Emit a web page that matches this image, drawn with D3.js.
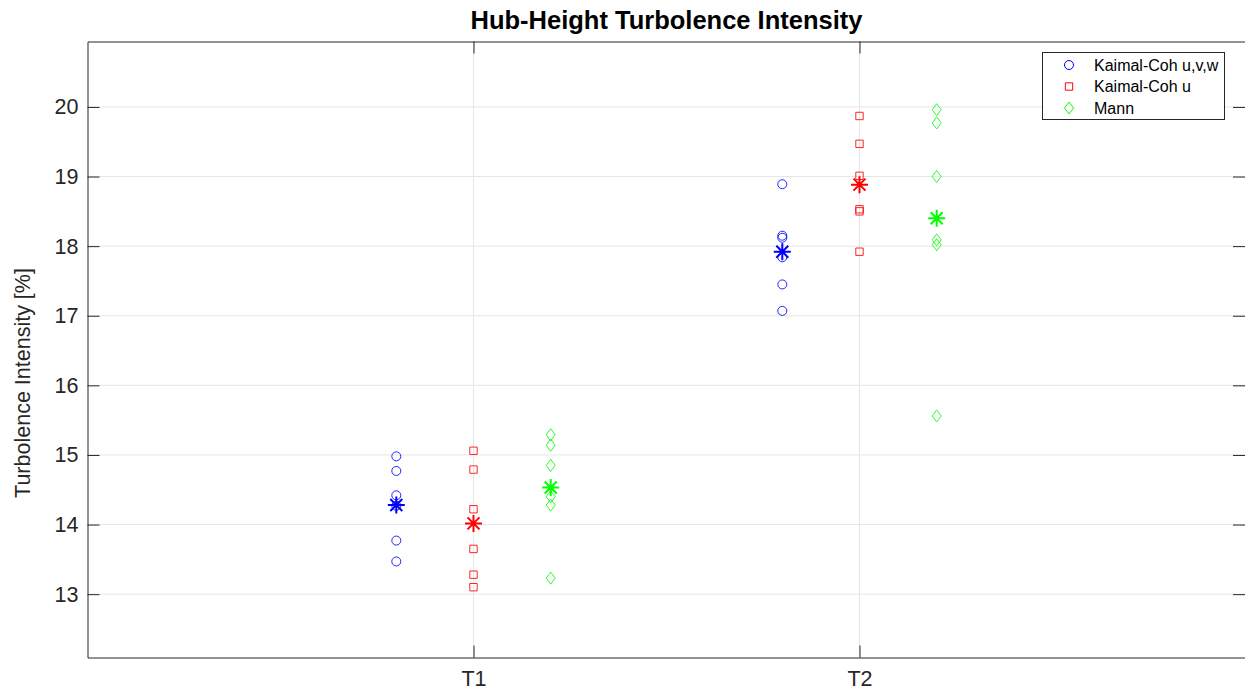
<!DOCTYPE html>
<html>
<meta charset="utf-8" />
<head>
    <script src="https://d3js.org/d3.v7.min.js"></script>
    <style>
        body { margin: 0; background: #fff; }
        text { font-family: "Liberation Sans", Arial, sans-serif; }
    </style>
</head>
<body>
<div id="chart"></div>
<script type="text/javascript">
    // turbine positions and the three turbulence models
    var turbines = ["T1", "T2"];
    var models = ["Kaimal-Coh u,v,w", "Kaimal-Coh u", "Mann"];
    var yTicks = [13, 14, 15, 16, 17, 18, 19, 20];

    // one value per seed
    var kaimalUVW_T1 = [14.98, 14.77, 14.42, 14.27, 13.77, 13.47];
    var kaimalUVW_T2 = [18.89, 18.15, 18.12, 17.84, 17.45, 17.07];
    var kaimalU_T1 = [15.06, 14.79, 14.22, 13.65, 13.28, 13.10];
    var kaimalU_T2 = [19.87, 19.47, 19.01, 18.53, 18.50, 17.92];
    var mann_T1 = [15.29, 15.14, 14.85, 14.40, 14.28, 13.23];
    var mann_T2 = [19.96, 19.77, 19.00, 18.09, 18.02, 15.56];

    var seriesData = [
        [kaimalUVW_T1, kaimalUVW_T2],
        [kaimalU_T1, kaimalU_T2],
        [mann_T1, mann_T2]
    ];
    var colors = ["#0000ff", "#ff0000", "#00ff00"];
    var offsets = [-0.2, 0, 0.2];

    const W = 1245, H = 693;
    const plotL = 87.5, plotR = 1245.5, plotT = 41.5, plotB = 657.5;

    var svg = d3.select("#chart").append("svg")
        .attr("width", W).attr("height", H);

    var x = d3.scaleLinear().domain([0, 3]).range([plotL, plotR]);
    var y = d3.scaleLinear().domain([12.09, 20.94]).range([plotB, plotT]);

    // grid
    svg.append("g").selectAll("line").data(yTicks).enter().append("line")
        .attr("x1", plotL).attr("x2", plotR)
        .attr("y1", d => y(d)).attr("y2", d => y(d))
        .attr("stroke", "#e6e6e6").attr("stroke-width", 1);
    svg.append("g").selectAll("line").data(turbines).enter().append("line")
        .attr("x1", (d, i) => x(i + 1)).attr("x2", (d, i) => x(i + 1))
        .attr("y1", plotT).attr("y2", plotB)
        .attr("stroke", "#e6e6e6").attr("stroke-width", 1);

    // axes (ticks inside, like matlab)
    var yAxis = d3.axisLeft(y).tickValues(yTicks).tickSizeInner(-12).tickSizeOuter(0).tickPadding(9);
    svg.append("g").attr("transform", "translate(" + plotL + ",0)").call(yAxis);
    svg.append("g").attr("transform", "translate(" + (plotR - 0.5) + ",0)")
        .call(d3.axisRight(y).tickValues(yTicks).tickSizeInner(-12).tickSizeOuter(0).tickFormat(""));
    var xAxis = d3.axisBottom(x).tickValues([1, 2]).tickFormat((d) => turbines[d - 1])
        .tickSizeInner(-12).tickSizeOuter(0).tickPadding(13);
    svg.append("g").attr("transform", "translate(0," + plotB + ")").call(xAxis);
    svg.append("g").attr("transform", "translate(0," + plotT + ")")
        .call(d3.axisTop(x).tickValues([1, 2]).tickSizeInner(-12).tickSizeOuter(0).tickFormat(""));

    svg.selectAll(".domain").attr("stroke", "#262626");
    svg.selectAll(".tick line").attr("stroke", "#262626");
    svg.selectAll(".tick text").attr("fill", "#262626")
        .style("font-size", "21.5px").style("font-family", "'Liberation Sans', Arial, sans-serif");

    // markers
    function markerPath(k, cx, cy) {
        if (k == 0) {
            var r = 4.5;
            return "M" + (cx - r) + "," + cy + "a" + r + "," + r + " 0 1,0 " + 2 * r + ",0a" + r + "," + r + " 0 1,0 " + (-2 * r) + ",0Z";
        } else if (k == 1) {
            var s = 3.7;
            return "M" + (cx - s) + "," + (cy - s) + "h" + 2 * s + "v" + 2 * s + "h" + (-2 * s) + "Z";
        } else {
            var a = 4.5, b = 6;
            return "M" + cx + "," + (cy - b) + "L" + (cx + a) + "," + cy + "L" + cx + "," + (cy + b) + "L" + (cx - a) + "," + cy + "Z";
        }
    }
    function starPath(cx, cy) {
        var r = 8.5, d = 6;
        return "M" + cx + "," + (cy - r) + "V" + (cy + r) +
            "M" + (cx - r) + "," + cy + "H" + (cx + r) +
            "M" + (cx - d) + "," + (cy - d) + "L" + (cx + d) + "," + (cy + d) +
            "M" + (cx - d) + "," + (cy + d) + "L" + (cx + d) + "," + (cy - d);
    }

    seriesData.forEach(function(series, k) {
        var g = svg.append("g");
        series.forEach(function(vals, t) {
            var cx = x(t + 1 + offsets[k]);
            g.selectAll(null).data(vals).enter().append("path")
                .attr("d", d => markerPath(k, cx, y(d)))
                .attr("fill", "none").attr("stroke", colors[k]).attr("stroke-width", 1)
                .attr("opacity", 0.85);
            g.append("path")
                .attr("d", starPath(cx, y(d3.mean(vals))))
                .attr("fill", "none").attr("stroke", colors[k]).attr("stroke-width", 2);
        });
    });

    // title and label
    svg.append("text").attr("x", (plotL + plotR) / 2).attr("y", 29)
        .attr("text-anchor", "middle").style("font-size", "25.5px").style("font-weight", "bold")
        .attr("fill", "#000").text("Hub-Height Turbolence Intensity");
    svg.append("text").attr("transform", "translate(30,383) rotate(-90)")
        .attr("text-anchor", "middle").style("font-size", "21.5px").attr("fill", "#262626")
        .text("Turbolence Intensity [%]");

    // legend
    var lg = svg.append("g");
    lg.append("rect").attr("x", 1042.5).attr("y", 52.5).attr("width", 182).attr("height", 67)
        .attr("fill", "#fff").attr("stroke", "#262626").attr("stroke-width", 1);
    models.forEach(function(m, k) {
        var ly = 65 + k * 21.5;
        lg.append("path").attr("d", markerPath(k, 1069, ly))
            .attr("fill", "none").attr("stroke", colors[k]).attr("stroke-width", 1);
        lg.append("text").attr("x", 1094).attr("y", ly + 5.5)
            .style("font-size", "16px").attr("fill", "#000").text(m);
    });
</script>
</body>
</html>
